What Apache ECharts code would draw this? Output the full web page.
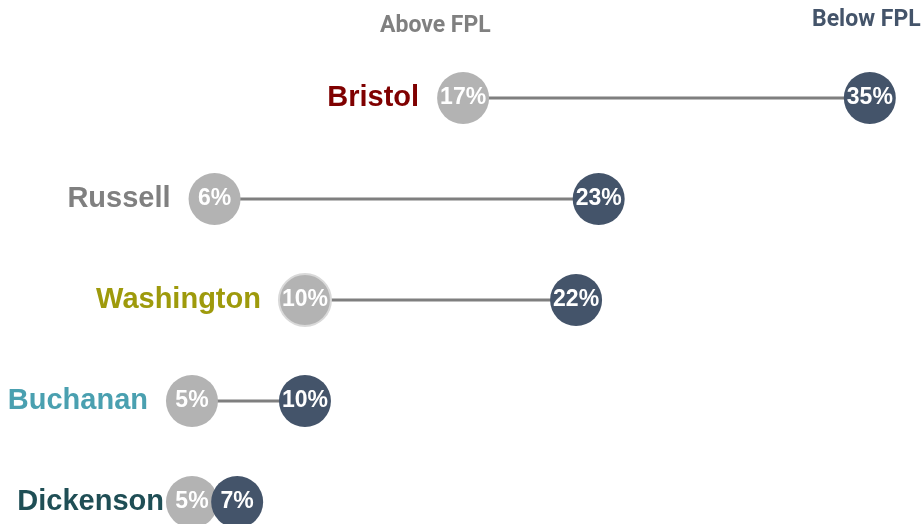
<!DOCTYPE html>
<html>
<head>
<meta charset="utf-8">
<script src="https://cdn.jsdelivr.net/npm/echarts@6/dist/echarts.min.js"></script>
<style>
  html, body { margin: 0; padding: 0; background: #fff; }
  #chart { width: 924px; height: 524px; }
</style>
</head>
<body>
<div id="chart"></div>
<script>
// counties, top to bottom
const counties = ['Bristol', 'Russell', 'Washington', 'Buchanan', 'Dickenson']
// percent above / below the federal poverty level
const aboveFpl = [17, 6, 10, 5, 5]
const belowFpl = [35, 23, 22, 10, 7]
const seriesNames = ['Above FPL', 'Below FPL']

const countyColors = {
  Bristol: '#7f0000',
  Russell: '#808080',
  Washington: '#9e9a0c',
  Buchanan: '#4aa0b0',
  Dickenson: '#1f4e55'
}

const chart = echarts.init(document.getElementById('chart'))

const pctLabel = {
  show: true,
  position: 'inside',
  formatter: p => p.value[0] + '%',
  color: '#fff',
  fontFamily: '"Liberation Sans", Arial, sans-serif',
  fontWeight: 'bold',
  fontSize: 23
}

const option = {
  backgroundColor: '#fff',
  animation: false,
  grid: { left: 79, right: 9, top: 98, bottom: 22 },
  xAxis: {
    type: 'value',
    min: 0,
    max: 37,
    show: false
  },
  yAxis: {
    type: 'category',
    data: counties,
    inverse: true,
    boundaryGap: false,
    show: false
  },
  graphic: [
    {
      type: 'text',
      left: 380,
      top: 15,
      style: {
        text: seriesNames[0],
        fill: '#808080',
        font: 'bold 23px Roboto, sans-serif'
      }
    },
    {
      type: 'text',
      left: 812,
      top: 9,
      style: {
        text: seriesNames[1],
        fill: '#44546a',
        font: 'bold 23px Roboto, sans-serif'
      }
    }
  ],
  series: [
    {
      // connectors
      type: 'custom',
      z: 1,
      data: counties.map((c, i) => [aboveFpl[i], belowFpl[i], i]),
      renderItem: (params, api) => {
        const a = api.coord([api.value(0), api.value(2)])
        const b = api.coord([api.value(1), api.value(2)])
        return {
          type: 'line',
          shape: { x1: a[0], y1: a[1], x2: b[0], y2: b[1] },
          style: { stroke: '#7f7f7f', lineWidth: 3 }
        }
      }
    },
    {
      name: seriesNames[0],
      type: 'scatter',
      z: 3,
      symbolSize: 52,
      itemStyle: { color: '#b3b3b3', opacity: 1 },
      label: pctLabel,
      data: counties.map((c, i) => {
        const item = { value: [aboveFpl[i], c] }
        if (c === 'Washington') {
          item.itemStyle = { borderColor: '#d9d9d9', borderWidth: 2 }
        }
        return item
      })
    },
    {
      name: seriesNames[1],
      type: 'scatter',
      z: 4,
      symbolSize: 52,
      itemStyle: { color: '#44546a', opacity: 1 },
      label: pctLabel,
      data: counties.map((c, i) => ({ value: [belowFpl[i], c] }))
    },
    {
      // county names, left of the first dot
      type: 'scatter',
      z: 2,
      symbolSize: 52,
      itemStyle: { color: 'rgba(0,0,0,0)', opacity: 1 },
      silent: true,
      data: counties.map((c, i) => ({
        value: [aboveFpl[i], c],
        label: {
          show: true,
          position: 'left',
          distance: c === 'Dickenson' ? 2 : 18,
          formatter: c,
          color: countyColors[c],
          fontFamily: '"Liberation Sans", Arial, sans-serif',
          fontWeight: 'bold',
          fontSize: 29
        }
      }))
    }
  ]
}

chart.setOption(option)
window.addEventListener('resize', () => chart.resize())
</script>
</body>
</html>
